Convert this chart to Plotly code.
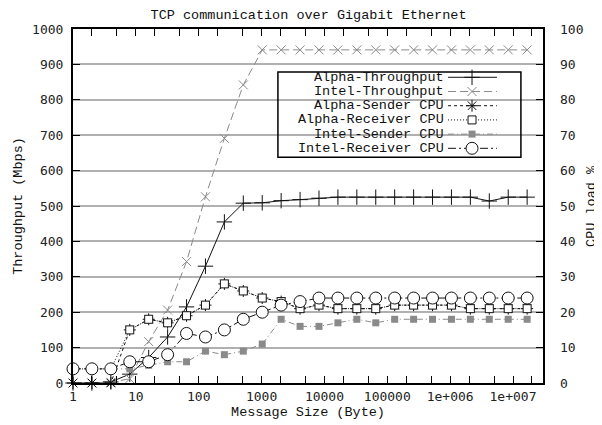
import plotly.graph_objects as go

# ---------------- data ----------------
msg_size = [1, 2, 4, 8, 16, 32, 64, 128, 256, 512, 1024, 2048, 4096, 8192, 16384,
            32768, 65536, 131072, 262144, 524288, 1048576, 2097152, 4194304,
            8388608, 16777216]

alpha_throughput = [0, 0, 3, 25, 72, 130, 215, 330, 455, 508, 509, 515, 518, 522, 525,
                    525, 525, 525, 525, 525, 525, 525, 514, 525, 525]
intel_throughput = [0, 0, 2, 12, 117, 206, 343, 526, 691, 842, 941, 941, 941, 941, 941,
                    941, 941, 941, 941, 941, 941, 941, 941, 941, 941]
alpha_sender_cpu = [0, 0, 0, 15, 18, 17, 19, 22, 28, 26, 24, 23, 21, 22, 21,
                    21, 21, 22, 22, 22, 22, 21, 21, 21, 21]
alpha_receiver_cpu = [4, 4, 4, 15, 18, 17, 19, 22, 28, 26, 24, 23, 21, 22, 21,
                      21, 21, 22, 22, 22, 22, 21, 21, 21, 21]
intel_sender_cpu = [4, 4, 4, 4, 5, 6, 6, 9, 8, 9, 11, 18, 16, 16, 17,
                    18, 17, 18, 18, 18, 18, 18, 18, 18, 18]
intel_receiver_cpu = [4, 4, 4, 6, 6, 8, 14, 13, 15, 18, 20, 22, 23, 24, 24,
                      24, 24, 24, 24, 24, 24, 24, 24, 24, 24]

x_tick_vals = [1, 10, 100, 1000, 10000, 100000, 1000000, 10000000]
x_tick_text = ["1", "10", "100", "1000", "10000", "100000", "1e+006", "1e+007"]
x_minor_vals = [m * d for d in [1, 10, 100, 1000, 10000, 100000, 1000000, 10000000] for m in (2, 5)]

series_names = ["Alpha-Throughput", "Intel-Throughput", "Alpha-Sender CPU",
                "Alpha-Receiver CPU", "Intel-Sender CPU", "Intel-Receiver CPU"]

# ---------------- styles ----------------
MONO = "Liberation Mono, Courier New, monospace"
TICKF = "DejaVu Sans Mono, monospace"
GRAY = "#8a8a8a"
TXT = "#111111"

styles = [
    dict(line=dict(color="#111111", width=1, dash="solid"),
         marker=dict(symbol="cross-thin-open", size=11, color="#111111", line=dict(width=1, color="#111111"))),
    dict(line=dict(color=GRAY, width=1, dash="8px,4px"),
         marker=dict(symbol="x-thin-open", size=9, color=GRAY, line=dict(width=1, color=GRAY))),
    dict(line=dict(color="#111111", width=1, dash="3px,3px"),
         marker=dict(symbol="asterisk-open", size=10, color="#111111", line=dict(width=1, color="#111111"))),
    dict(line=dict(color="#111111", width=1, dash="1px,2px"),
         marker=dict(symbol="square", size=8, color="white", line=dict(width=1, color="#111111"))),
    dict(line=dict(color=GRAY, width=1, dash="6px,3px,1px,3px"),
         marker=dict(symbol="square", size=7, color=GRAY, line=dict(width=0))),
    dict(line=dict(color="#111111", width=1, dash="8px,3px,2px,3px"),
         marker=dict(symbol="circle", size=12, color="white", line=dict(width=1, color="#111111"))),
]

series_values = [alpha_throughput, intel_throughput, alpha_sender_cpu,
                 alpha_receiver_cpu, intel_sender_cpu, intel_receiver_cpu]
series_axis = ["y", "y", "y2", "y2", "y2", "y2"]

fig = go.Figure()
for name, vals, ax, st in zip(series_names, series_values, series_axis, styles):
    fig.add_trace(go.Scatter(x=msg_size, y=vals, name=name, yaxis=ax, mode="lines+markers",
                             line=st["line"], marker=st["marker"], cliponaxis=False,
                             showlegend=False))

# ---------------- custom legend (text left, sample right, like gnuplot) ----------------
row_y = [0.8636, 0.8234, 0.7833, 0.7432, 0.7031, 0.6630]
for name, yy, st in zip(series_names, row_y, styles):
    fig.add_trace(go.Scatter(x=[0.798, 0.849, 0.902], y=[yy, yy, yy], xaxis="x3", yaxis="y3",
                             mode="lines", line=st["line"], showlegend=False, hoverinfo="skip",
                             cliponaxis=False))
    fig.add_trace(go.Scatter(x=[0.849], y=[yy], xaxis="x3", yaxis="y3",
                             mode="markers", marker=st["marker"], showlegend=False,
                             hoverinfo="skip", cliponaxis=False))
    fig.add_annotation(x=0.794, y=yy, xref="paper", yref="paper", text=name, showarrow=False,
                       xanchor="right", yanchor="middle", height=13, valign="middle",
                       font=dict(family=MONO, size=13.5, color=TXT))

fig.add_shape(type="rect", xref="paper", yref="paper", x0=0.436, x1=0.953, y0=0.638, y1=0.8785,
              line=dict(color="black", width=1.5), fillcolor="rgba(0,0,0,0)")

# right axis title
fig.add_annotation(x=1.102, y=0.5, xref="paper", yref="paper", text="CPU load %", showarrow=False,
                   textangle=-90, xanchor="center", yanchor="middle",
                   font=dict(family=MONO, size=13.5, color=TXT))

# the page body adds an 8px offset; the figure is sized so the plot lands where the reference has it
fig.update_layout(
    width=594, height=417,
    margin=dict(l=65, r=59, t=21, b=42, autoexpand=False),
    paper_bgcolor="white", plot_bgcolor="white",
    title=dict(text="TCP communication over Gigabit Ethernet", x=0.506, xanchor="center",
               y=0.986, yanchor="middle", automargin=False,
               font=dict(family=MONO, size=13.5, color=TXT)),
    showlegend=False,
    xaxis=dict(type="log", range=[0, 7.477], tickmode="array", tickvals=x_tick_vals,
               ticktext=x_tick_text, ticks="inside", ticklen=7, tickwidth=1, tickcolor="black",
               showgrid=False, zeroline=False, showline=True, linecolor="black", linewidth=2,
               mirror="allticks", automargin=False,
               minor=dict(tickmode="array", tickvals=x_minor_vals, ticks="inside", ticklen=4,
                          tickwidth=1, tickcolor="black", showgrid=False),
               tickfont=dict(family=TICKF, size=13, color="#222222"),
               title=dict(text="Message Size (Byte)", font=dict(family=MONO, size=13.5, color=TXT),
                          standoff=4)),
    yaxis=dict(range=[0, 1000], tickmode="array", tickvals=list(range(0, 1001, 100)),
               ticks="inside", ticklen=7, tickcolor="black", showgrid=True, gridcolor="#b0b0b0",
               gridwidth=1.5, zeroline=False, showline=True, linecolor="black", linewidth=2,
               mirror="allticks", ticklabelstandoff=5, automargin=False,
               tickfont=dict(family=TICKF, size=13, color="#222222"),
               title=dict(text="Throughput (Mbps)", font=dict(family=MONO, size=13.5, color=TXT),
                          standoff=6)),
    yaxis2=dict(range=[0, 100], overlaying="y", side="right", tickmode="array",
                tickvals=list(range(0, 101, 10)), ticks="", showgrid=False, zeroline=False,
                showline=False, ticklabelstandoff=16, automargin=False,
                tickfont=dict(family=TICKF, size=13, color="#222222")),
    xaxis3=dict(range=[0, 1], overlaying="x", visible=False, fixedrange=True),
    yaxis3=dict(range=[0, 1], overlaying="y", visible=False, fixedrange=True),
)

fig.write_html("out.html")
